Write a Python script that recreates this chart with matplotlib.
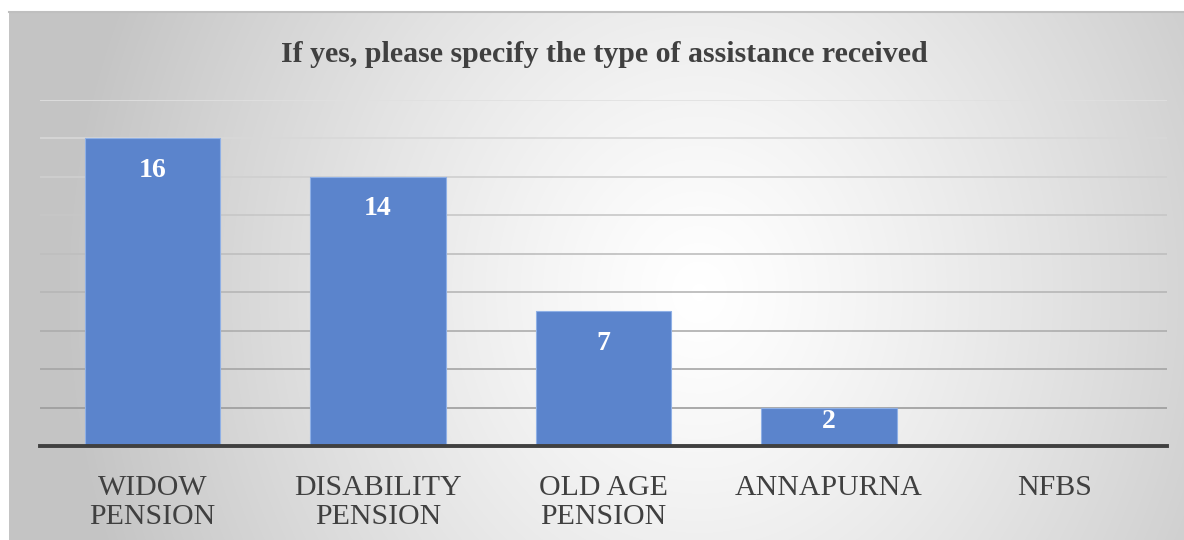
import numpy as np
import matplotlib.pyplot as plt
from matplotlib.colors import LinearSegmentedColormap

# Assistance types and counts
categories = ["WIDOW\nPENSION", "DISABILITY\nPENSION", "OLD AGE\nPENSION", "ANNAPURNA", "NFBS"]
counts = [16, 14, 7, 2, 0]
title = "If yes, please specify the type of assistance received"

plt.rcParams['font.family'] = ['Liberation Serif', 'DejaVu Serif']

W, H = 1184, 540
fig = plt.figure(figsize=(W / 100, H / 100), dpi=100)
fig.patch.set_facecolor("white")

# chart area with a radial grey gradient
bg = fig.add_axes([9 / W, 0, 1 - 9 / W, 1 - 12 / H])
yy, xx = np.mgrid[0:528, 0:1175]
r = np.sqrt(((xx - 690) / 640.0) ** 2 + ((yy - 280) / 720.0) ** 2)
r = np.clip(r, 0, 1) ** 1.25
cmap = LinearSegmentedColormap.from_list("bg", ["#ffffff", "#c4c4c4"])
bg.imshow(r, cmap=cmap, aspect="auto", vmin=0, vmax=1,
          extent=[0, 1, 0, 1], origin="upper")
bg.set_xticks([])
bg.set_yticks([])
for s in bg.spines.values():
    s.set_visible(False)
bg.spines["top"].set_visible(True)
bg.spines["top"].set_color("#bfbfbf")
bg.spines["top"].set_linewidth(1.5)

ax = fig.add_axes([40 / W, (H - 446) / H, 1127 / W, 346 / H])
ax.patch.set_alpha(0)
x = np.arange(len(categories))
ax.set_xlim(-0.5, len(categories) - 0.5)
ax.set_ylim(0, 18)

# gridlines get lighter towards the top
grid_vals = np.arange(2, 19, 2)
for g in grid_vals:
    t = g / 18
    c = 0.58 + 0.3 * t
    ax.axhline(g, color=(c, c, c), lw=1.2, zorder=1)

bars = ax.bar(x, counts, width=0.6, color="#5b84cc", edgecolor="#8fb0e6",
              linewidth=0.8, zorder=2)

# value labels sit just inside the top of each bar
px_per_unit = ax.transData.transform((0, 1))[1] - ax.transData.transform((0, 0))[1]
for xi, v in zip(x, counts):
    if v > 0:
        off = min(32, v * px_per_unit - 25)
        ax.annotate(str(v), (xi, v), xytext=(0, -off), textcoords="offset pixels",
                    ha="center", va="center", color="white", fontsize=20,
                    fontweight="bold", zorder=3)

ax.axhline(0, color="#404040", lw=2.8, zorder=4, clip_on=False)
ax.set_xticks(x)
ax.set_xticklabels(categories, fontsize=21.5, color="#404040", linespacing=1.15)
ax.tick_params(axis="x", length=0, pad=21)
ax.set_yticks([])
for s in ax.spines.values():
    s.set_visible(False)

fig.text(604 / W, 1 - 55 / H, title, ha="center", va="center",
         fontsize=21.5, fontweight="bold", color="#404040")

fig.savefig("out.png", dpi=100)
